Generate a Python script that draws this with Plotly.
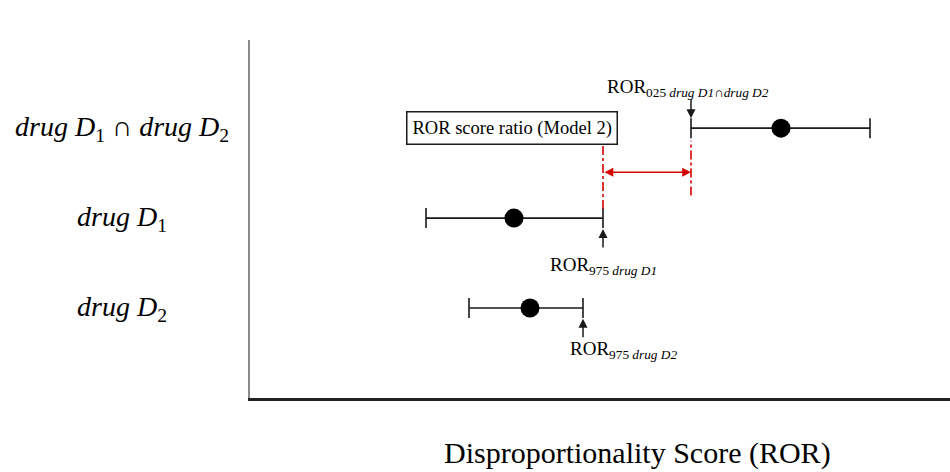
import plotly.graph_objects as go

# ---- data (arbitrary ROR units) ----
categories = ["<i>drug D</i><sub>1</sub> ∩ <i>drug D</i><sub>2</sub>",
              "<i>drug D</i><sub>1</sub>", "<i>drug D</i><sub>2</sub>"]
row_pos = [3, 2, 1]
ror_point = [5.31, 2.64, 2.80]
ror_lower = [4.41, 1.76, 2.19]
ror_upper = [6.20, 3.53, 3.33]

FONT = "Liberation Serif"
INK = "#1a1a1a"
RED = "#d40000"

err_plus = [u - p for u, p in zip(ror_upper, ror_point)]
err_minus = [p - l for p, l in zip(ror_point, ror_lower)]

fig = go.Figure()
fig.add_trace(go.Scatter(
    x=ror_point, y=row_pos, mode="markers",
    marker=dict(size=19, color="black"),
    error_x=dict(type="data", symmetric=False, array=err_plus, arrayminus=err_minus,
                 color=INK, thickness=1.6, width=10),
    showlegend=False, hoverinfo="skip",
))

annotations = []
# category labels (centred, left of the axis)
for cat, yv in zip(categories, row_pos):
    annotations.append(dict(xref="paper", yref="y", x=-0.183, y=yv, text=cat,
                            showarrow=False, xanchor="center", yanchor="middle",
                            font=dict(family=FONT, size=28, color="black")))

# x-axis title
annotations.append(dict(xref="paper", yref="paper", x=0.553, y=-0.153,
                        text="Disproportionality Score (ROR)", showarrow=False,
                        xanchor="center", yanchor="middle",
                        font=dict(family=FONT, size=30, color="black")))

# box label
annotations.append(dict(xref="x", yref="y", x=2.62, y=3.0, text="ROR score ratio (Model 2)",
                        showarrow=False, xanchor="center", yanchor="middle",
                        bordercolor=INK, borderwidth=1.5, borderpad=5, bgcolor="white",
                        font=dict(family=FONT, size=18.5, color="black")))

# black arrows pointing at CI limits
lo_c = ror_lower[0]
up_1 = ror_upper[1]
up_2 = ror_upper[2]
annotations.append(dict(xref="x", yref="y", x=lo_c, y=row_pos[0] + 0.11, text="",
                        showarrow=True, ax=0, ay=-20, arrowhead=2, arrowsize=1.2,
                        arrowwidth=1.5, arrowcolor=INK))
annotations.append(dict(xref="x", yref="y", x=up_1, y=row_pos[1] - 0.12, text="",
                        showarrow=True, ax=0, ay=20, arrowhead=2, arrowsize=1.2,
                        arrowwidth=1.5, arrowcolor=INK))
annotations.append(dict(xref="x", yref="y", x=up_2, y=row_pos[2] - 0.12, text="",
                        showarrow=True, ax=0, ay=20, arrowhead=2, arrowsize=1.2,
                        arrowwidth=1.5, arrowcolor=INK))

# arrow labels
lab_font = dict(family=FONT, size=19, color="black")
annotations.append(dict(xref="x", yref="y", x=lo_c - 0.86, y=row_pos[0] + 0.45,
                        text="ROR<sub>025 <i>drug D1∩drug D2</i></sub>", showarrow=False,
                        xanchor="left", yanchor="middle", font=lab_font))
annotations.append(dict(xref="x", yref="y", x=up_1 - 0.55, y=row_pos[1] - 0.53,
                        text="ROR<sub>975 <i>drug D1</i></sub>", showarrow=False,
                        xanchor="left", yanchor="middle", font=lab_font))
annotations.append(dict(xref="x", yref="y", x=up_2 - 0.15, y=row_pos[2] - 0.47,
                        text="ROR<sub>975 <i>drug D2</i></sub>", showarrow=False,
                        xanchor="left", yanchor="middle", font=lab_font))

# red double arrow between the two limits
annotations.append(dict(xref="x", yref="y", axref="x", ayref="y",
                        x=lo_c, y=2.51, ax=up_1, ay=2.51, text="",
                        showarrow=True, arrowside="end+start", arrowhead=2, arrowsize=1.1,
                        arrowwidth=1.6, arrowcolor=RED))

shapes = [
    dict(type="line", xref="x", yref="y", x0=up_1, x1=up_1, y0=2.1, y1=2.86,
         line=dict(color=RED, width=1.6, dash="dashdot")),
    dict(type="line", xref="x", yref="y", x0=lo_c, x1=lo_c, y0=2.25, y1=2.86,
         line=dict(color=RED, width=1.6, dash="dashdot")),
]

fig.update_layout(
    width=950, height=472,
    margin=dict(l=250, r=0, t=40, b=74),
    paper_bgcolor="white", plot_bgcolor="white",
    xaxis=dict(range=[0, 7], showgrid=False, zeroline=False, showticklabels=False,
               ticks="", showline=True, linecolor="#222", linewidth=2.5),
    yaxis=dict(range=[0, 3.98], showgrid=False, zeroline=False, showticklabels=False,
               ticks="", showline=True, linecolor="#8a8a8a", linewidth=2),
    annotations=annotations,
    shapes=shapes,
    showlegend=False,
)

fig.write_html("out.html", config={"displayModeBar": False},
               post_script="document.body.style.margin='0';document.body.style.overflow='hidden';")
